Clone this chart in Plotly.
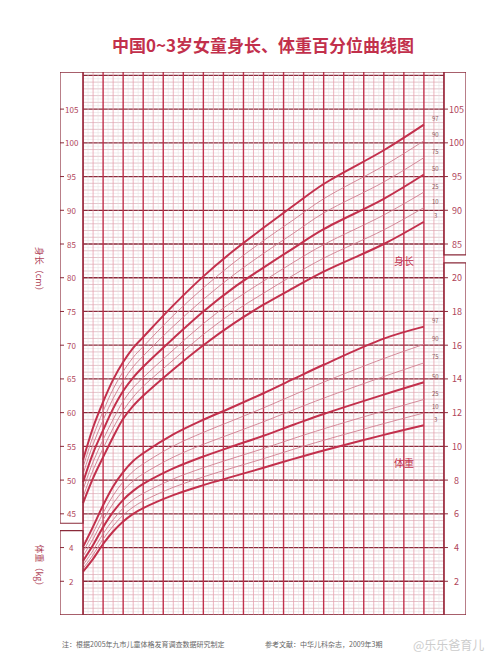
import plotly.graph_objects as go

months = [0, 1, 2, 3, 4, 5, 6, 9, 12, 15, 18, 21, 24, 30, 34]
pct = ["3", "10", "25", "50", "75", "90", "97"]
length = {
    "3":  [46.6, 50.3, 53.4, 56.4, 59.1, 61.0, 62.5, 66.4, 70.0, 73.2, 76.0, 78.5, 80.9, 85.0, 88.3],
    "10": [47.5, 51.5, 54.7, 57.7, 60.3, 62.3, 63.9, 67.8, 71.6, 74.9, 77.7, 80.4, 82.9, 87.1, 90.4],
    "25": [48.6, 52.7, 56.0, 59.0, 61.7, 63.7, 65.2, 69.3, 73.2, 76.6, 79.5, 82.3, 84.9, 89.3, 92.7],
    "50": [49.7, 54.0, 57.4, 60.6, 63.2, 65.2, 66.8, 71.0, 75.0, 78.5, 81.5, 84.4, 87.2, 91.7, 95.3],
    "75": [50.9, 55.3, 58.9, 62.1, 64.7, 66.8, 68.4, 72.8, 76.8, 80.4, 83.6, 86.6, 89.6, 94.2, 97.8],
    "90": [51.9, 56.5, 60.2, 63.5, 66.1, 68.2, 69.8, 74.4, 78.5, 82.2, 85.5, 88.6, 91.7, 96.6, 100.3],
    "97": [53.0, 57.8, 61.6, 64.9, 67.5, 69.6, 71.2, 75.9, 80.2, 84.0, 87.4, 90.7, 93.9, 98.9, 102.7],
}
weight = {
    "3":  [2.57, 3.33, 4.21, 4.95, 5.55, 6.00, 6.34, 7.11, 7.70, 8.22, 8.73, 9.26, 9.76, 10.68, 11.25],
    "10": [2.76, 3.57, 4.50, 5.28, 5.93, 6.40, 6.76, 7.57, 8.19, 8.74, 9.27, 9.83, 10.36, 11.35, 11.98],
    "25": [2.96, 3.83, 4.82, 5.65, 6.34, 6.84, 7.21, 8.07, 8.73, 9.31, 9.87, 10.47, 11.04, 12.10, 12.78],
    "50": [3.21, 4.15, 5.21, 6.11, 6.83, 7.36, 7.77, 8.69, 9.40, 10.02, 10.63, 11.28, 11.92, 13.07, 13.80],
    "75": [3.49, 4.51, 5.64, 6.61, 7.37, 7.95, 8.37, 9.36, 10.12, 10.79, 11.46, 12.17, 12.86, 14.14, 14.95],
    "90": [3.75, 4.86, 6.06, 7.09, 7.90, 8.52, 8.96, 10.02, 10.83, 11.55, 12.28, 13.05, 13.81, 15.21, 16.05],
    "97": [4.04, 5.24, 6.51, 7.62, 8.47, 9.13, 9.59, 10.71, 11.58, 12.35, 13.15, 14.00, 14.84, 16.39, 17.10],
}
top_ticks = list(range(0, 37, 2))
bottom_ticks = list(range(0, 35, 2))
cm_left = list(range(45, 106, 5))
kg_left = [2, 4]
cm_right = list(range(85, 106, 5))
kg_right = list(range(2, 21, 2))

RED = "#c2304c"
DARK = "#8a2a3a"
PINK = "#e8a0ad"
GREY = "#e4dcde"
TXT = "#b0455a"

def kg2y(w):
    return 30 + 2.5 * w

fig = go.Figure()
shapes = []
Y0, Y1 = 30, 110.5
for i in range(int((Y1 - Y0) * 2) + 1):
    y = Y0 + i * 0.5
    if abs(y % 5) < 1e-6:
        c, w = DARK, 1.3
    elif abs(y % 1) < 1e-6:
        c, w = "#d9aeb6", 0.7
    else:
        c, w = GREY, 0.5
    shapes.append(dict(type="line", x0=0, x1=36, y0=y, y1=y, line=dict(color=c, width=w), layer="below"))
for i in range(73):
    x = i * 0.5
    if i % 4 == 0:
        c, w = RED, 1.4
    elif i % 2 == 0:
        c, w = PINK, 0.8
    else:
        c, w = GREY, 0.5
    shapes.append(dict(type="line", x0=x, x1=x, y0=Y0, y1=Y1, line=dict(color=c, width=w), layer="below"))
box = dict(color=DARK, width=1.2)
shapes += [
    dict(type="rect", x0=-2.3, x1=0, y0=43.6, y1=Y1, line=box),
    dict(type="rect", x0=-2.3, x1=0, y0=Y0, y1=42.5, line=box),
    dict(type="rect", x0=36, x1=38.2, y0=83.4, y1=Y1, line=box),
    dict(type="rect", x0=36, x1=38.2, y0=Y0, y1=82.2, line=box),
    dict(type="line", x0=-2.3, x1=38.2, y0=Y1, y1=Y1, line=box),
    dict(type="line", x0=-2.3, x1=38.2, y0=Y0, y1=Y0, line=box),
]
ann = []
for v in cm_left:
    shapes.append(dict(type="line", x0=-2.3, x1=-1.9, y0=v, y1=v, line=dict(color=DARK, width=1)))
    ann.append(dict(x=-1.15, y=v, text=str(v), showarrow=False, font=dict(size=8, color=TXT)))
for v in kg_left:
    shapes.append(dict(type="line", x0=-2.3, x1=-1.9, y0=kg2y(v), y1=kg2y(v), line=dict(color=DARK, width=1)))
    ann.append(dict(x=-1.15, y=kg2y(v), text=str(v), showarrow=False, font=dict(size=8, color=TXT)))
for v in cm_right:
    shapes.append(dict(type="line", x0=36, x1=36.4, y0=v, y1=v, line=dict(color=DARK, width=1)))
    ann.append(dict(x=37.3, y=v, text=str(v), showarrow=False, font=dict(size=9, color=TXT)))
for v in kg_right:
    shapes.append(dict(type="line", x0=36, x1=36.4, y0=kg2y(v), y1=kg2y(v), line=dict(color=DARK, width=1)))
    ann.append(dict(x=37.3, y=kg2y(v), text=str(v), showarrow=False, font=dict(size=9, color=TXT)))
for v in top_ticks:
    ann.append(dict(x=v, y=112.8, text=str(v), showarrow=False, font=dict(size=9, color=TXT)))
ann.append(dict(x=37.6, y=112.8, text="月", showarrow=False, font=dict(size=9, color=TXT)))
for v in bottom_ticks:
    ann.append(dict(x=v, y=27.9, text=str(v), showarrow=False, font=dict(size=9, color=TXT)))
ann.append(dict(x=36.6, y=27.9, text="36 月", showarrow=False, font=dict(size=9, color=TXT)))

for p in pct:
    thick = p in ("3", "50", "97")
    ln = dict(color=RED if thick else "#cf7f90", width=2 if thick else 0.9, shape="spline")
    fig.add_trace(go.Scatter(x=months, y=length[p], mode="lines", line=ln, hoverinfo="skip"))
    fig.add_trace(go.Scatter(x=months, y=[kg2y(w) for w in weight[p]], mode="lines", line=ln, hoverinfo="skip"))
    for yv in (length[p][-1], kg2y(weight[p][-1])):
        ann.append(dict(x=35.2, y=yv + 0.9, text=p, showarrow=False, font=dict(size=6, color="#8a5a60")))

ann += [
    dict(x=32, y=82.5, text="身长", showarrow=False, font=dict(size=10, color=RED)),
    dict(x=32, y=52.6, text="体重", showarrow=False, font=dict(size=10, color=RED)),
    dict(xref="paper", x=-0.03, xanchor="right", y=81, text="身长（cm）", textangle=90, showarrow=False, font=dict(size=9, color=TXT)),
    dict(xref="paper", x=-0.03, xanchor="right", y=37, text="体重（kg）", textangle=90, showarrow=False, font=dict(size=9, color=TXT)),
    dict(x=39.6, y=95, text="身长（cm）", textangle=90, showarrow=False, font=dict(size=9, color=TXT)),
    dict(x=39.6, y=65, text="体重（kg）", textangle=90, showarrow=False, font=dict(size=9, color=TXT)),
    dict(xref="paper", yref="paper", x=0.5, y=1.0, yshift=42, xanchor="center", text="<b>中国0~3岁女童身长、体重百分位曲线图</b>", showarrow=False, font=dict(size=17, color=RED, family="Noto Sans CJK SC")),
    dict(xref="paper", yref="paper", x=0.0, y=0, yshift=-36, xanchor="left", text="注：根据2005年九市儿童体格发育调查数据研究制定", showarrow=False, font=dict(size=7, color="#666")),
    dict(xref="paper", yref="paper", x=0.5, y=0, yshift=-36, xanchor="left", text="参考文献：中华儿科杂志，2009年3期", showarrow=False, font=dict(size=7, color="#666")),
    dict(xref="paper", yref="paper", x=1.05, y=0, yshift=-40, xanchor="right", text="@乐乐爸育儿", showarrow=False, font=dict(size=12, color="#cccccc")),
]

fig.update_layout(
    width=500, height=666, margin=dict(l=52, r=42, t=64, b=59),
    plot_bgcolor="white", paper_bgcolor="white", showlegend=False,
    shapes=shapes, annotations=ann,
    font=dict(family="Noto Sans CJK SC"),
    xaxis=dict(range=[-2.3, 38.2], visible=False, fixedrange=True),
    yaxis=dict(range=[Y0, Y1], visible=False, fixedrange=True),
)
fig.write_html("out.html")
